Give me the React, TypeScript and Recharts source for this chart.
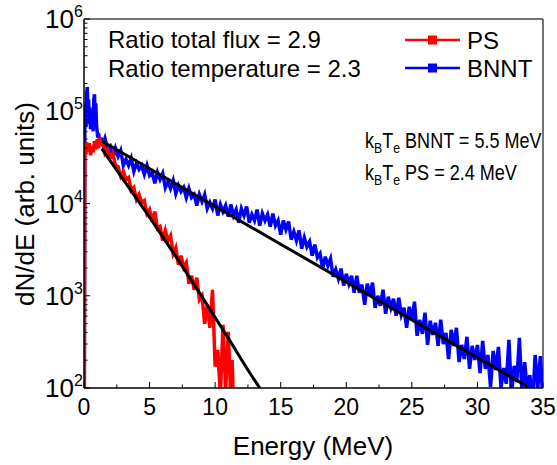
import { LineChart, Line, XAxis, YAxis, ReferenceLine } from "recharts";

const FONT = "'Liberation Sans', Arial, sans-serif";

// BNNT spectrum (energy in MeV, counts in arb. units)
const bnntEnergy = [
  0.02, 0.06, 0.1, 0.15, 0.2, 0.25, 0.3, 0.35, 0.4, 0.45, 0.5, 0.55, 0.6, 0.65, 0.7, 0.75, 0.8, 0.85,
  0.9, 0.95, 1.0, 1.05, 1.1, 1.2, 1.3,
  1.4, 1.6, 1.8, 2, 2.2, 2.4, 2.6, 2.8, 3, 3.2, 3.4, 3.6, 3.8, 4, 4.2, 4.4, 4.6, 4.8, 5, 5.2, 5.4, 5.6,
  5.8, 6, 6.2, 6.4, 6.6, 6.8, 7, 7.2, 7.4, 7.6, 7.8, 8, 8.2, 8.4, 8.6, 8.8, 9, 9.2, 9.4, 9.6, 9.8, 10,
  10.2, 10.4, 10.6, 10.8, 11, 11.2, 11.4, 11.6, 11.8, 12, 12.2, 12.4, 12.6, 12.8, 13, 13.2, 13.4, 13.6,
  13.8, 14, 14.2, 14.4, 14.6, 14.8, 15, 15.2, 15.4, 15.6, 15.8, 16, 16.2, 16.4, 16.6, 16.8, 17, 17.2,
  17.4, 17.6, 17.8, 18, 18.2, 18.4, 18.6, 18.8, 19, 19.2, 19.4, 19.6, 19.8, 20, 20.2, 20.4, 20.6, 20.8,
  21, 21.2, 21.4, 21.6, 21.8, 22, 22.2, 22.4, 22.6, 22.8, 23, 23.2, 23.4, 23.6, 23.8, 24, 24.2, 24.4,
  24.6, 24.8, 25, 25.2, 25.4, 25.6, 25.8, 26, 26.2, 26.4, 26.6, 26.8, 27, 27.2, 27.4, 27.6, 27.8, 28,
  28.2, 28.4, 28.6, 28.8, 29, 29.2, 29.4, 29.6, 29.8, 30, 30.2, 30.4, 30.6, 30.8, 31, 31.2, 31.4, 31.6,
  31.8, 32, 32.2, 32.4, 32.6, 32.8, 33, 33.2, 33.4, 33.6, 33.8, 34, 34.2, 34.4, 34.6, 34.8, 35,
];
const bnntCounts = [
  50, 72300, 119000, 67000, 153000, 182500, 92800, 135000, 72300, 110000, 63700, 100000, 72300, 86000,
  60600, 135000, 153000, 81900, 122000, 72300, 60600, 52000, 57600, 47200, 52000,
  41700, 50800, 38600, 41700, 30900, 39600, 32400, 37600, 25800, 30100,
  25800, 30900, 22300, 27200, 23400, 25800, 20700, 25800, 20200, 21800,
  16500, 21800, 18200, 21200, 14900, 17300, 14550, 17750, 12800, 15700,
  13500, 14900, 11600, 14550, 11600, 12500, 9500, 12500, 10500, 12500,
  8800, 10250, 8800, 11050, 7400, 9750, 8180, 9500, 7220, 9750,
  7400, 8600, 6210, 8800, 7400, 9270, 6210, 7590, 6530, 8600,
  5760, 7780, 6530, 7590, 5620, 7780, 5760, 6530, 4600, 6530,
  5220, 6370, 4060, 4960, 3960, 5090, 3240, 4270, 3400, 3860,
  2720, 3580, 2590, 2860, 1970, 2650, 2120, 2520, 1610, 1920,
  1530, 1970, 1290, 1730, 1350, 1650, 1080, 1650, 1080, 1320,
  798, 1350, 1000, 1390, 741, 1000, 778, 1160, 638, 975,
  741, 928, 606, 951, 622, 741, 449, 759, 549, 861,
  368, 549, 386, 654, 293, 535, 377, 509, 286, 549,
  300, 396, 206, 427, 286, 449, 191, 293, 206, 359,
  161, 286, 201, 293, 145, 324, 161, 228, 103, 252,
  157, 279, 100, 165, 111, 332, 84, 174, 116, 349,
  86, 191, 95, 138, 62, 228, 100, 222, 67,
];

// PS spectrum
const psEnergy = [
  0.02, 0.06, 0.1, 0.15, 0.2, 0.3, 0.4, 0.5, 0.6, 0.7, 0.8, 0.9, 1.0, 1.1, 1.2, 1.3,
  1.4, 1.6, 1.8, 2, 2.2, 2.4, 2.6, 2.8, 3, 3.2, 3.4, 3.6, 3.8, 4, 4.2, 4.4, 4.6, 4.8, 5, 5.2, 5.4, 5.6,
  5.8, 6, 6.2, 6.4, 6.6, 6.8, 7, 7.2, 7.4, 7.6, 7.8, 8, 8.2, 8.4, 8.6, 8.8, 9, 9.2, 9.4, 9.6, 9.8, 10,
  10.2, 10.4, 10.6, 10.8, 11, 11.2, 11.3, 11.4,
];
const psCounts = [
  50, 33000, 43800, 34100, 46000, 36700, 45000, 33300, 41700, 35800, 47200, 38600, 49600, 39600, 52000,
  42700,
  48400, 35000, 38600, 30900, 35000, 25800, 25200, 19700, 22300, 18200,
  19100, 13850, 14900, 11050, 12500, 10250, 10770, 7780, 8600, 6370,
  8180, 5350, 5620, 3960, 5090, 3960, 4490, 2860, 3320, 2170,
  2720, 2020, 2280, 1350, 1650, 1160, 1570, 905, 1000, 496,
  798, 449, 1160, 170, 259, 84, 484, 95, 406, 74,
  201, 60,
];

// exponential fits
const bnntFitEnergy = [1.35, 15, 33.8];
const bnntFitCounts = [47500, 3620, 104];
const psFitEnergy = [1.35, 3, 5.03, 7, 8.85, 11, 12.66, 13.4];
const psFitCounts = [39400, 18150, 7000, 2670, 1052, 347, 144.5, 100];

const xTicks = [0, 2.5, 5, 7.5, 10, 12.5, 15, 17.5, 20, 22.5, 25, 27.5, 30, 32.5, 35];
const yMajorTicks = [100, 1000, 10000, 100000, 1000000];
const yMinorTicks = [
  200, 300, 400, 500, 600, 700, 800, 900,
  2000, 3000, 4000, 5000, 6000, 7000, 8000, 9000,
  20000, 30000, 40000, 50000, 60000, 70000, 80000, 90000,
  200000, 300000, 400000, 500000, 600000, 700000, 800000, 900000,
];

const zip = (xs: number[], ys: number[]) => xs.map((x, i) => ({ x, y: ys[i] }));

const bnntData = zip(bnntEnergy, bnntCounts);
const psData = zip(psEnergy, psCounts);
const bnntFit = zip(bnntFitEnergy, bnntFitCounts);
const psFit = zip(psFitEnergy, psFitCounts);

function XTick({ x, y, payload }: any) {
  const v = payload.value;
  const major = v % 5 === 0;
  return (
    <g>
      <line x1={x} x2={x} y1={y} y2={y - (major ? 6 : 3.5)} stroke="#000" strokeWidth={1} />
      {major && (
        <text x={x} y={y + 27} textAnchor="middle" fontSize={23} fontFamily={FONT} fill="#000">
          {v}
        </text>
      )}
    </g>
  );
}

function YTick({ x, y, payload }: any) {
  const v = payload.value;
  const major = yMajorTicks.includes(v);
  return (
    <g>
      <line x1={x} x2={x + (major ? 6 : 3.5)} y1={y} y2={y} stroke="#000" strokeWidth={1} />
      {major && (
        <g fontFamily={FONT} fill="#000">
          <text x={x - 10} y={y + 9} textAnchor="end" fontSize={26}>
            10
          </text>
          <text x={x - 10} y={y - 2} fontSize={16}>
            {Math.round(Math.log10(v))}
          </text>
        </g>
      )}
    </g>
  );
}

function KbTe({ y, label }: { y: number; label: string }) {
  return (
    <text transform={`translate(365,${y}) scale(0.82,1)`} fontSize={22}>
      k<tspan fontSize={15} dy={5}>B</tspan>
      <tspan dy={-5}>T</tspan>
      <tspan fontSize={15} dy={5}>e</tspan>
      <tspan dy={-5}>{" " + label}</tspan>
    </text>
  );
}

export default function App() {
  return (
    <div style={{ position: "absolute", left: 0, top: 0, width: 557, height: 465, background: "#fff" }}>
      <LineChart width={557} height={465} margin={{ top: 19, right: 14, left: 0, bottom: 0 }}>
        <XAxis
          type="number"
          dataKey="x"
          domain={[0, 35]}
          ticks={xTicks}
          interval={0}
          allowDataOverflow
          height={77}
          tickSize={0}
          tickMargin={0}
          tick={<XTick />}
          axisLine={{ stroke: "#000", strokeWidth: 1.5 }}
        />
        <YAxis
          type="number"
          dataKey="y"
          scale="log"
          domain={[100, 1000000]}
          ticks={[...yMajorTicks, ...yMinorTicks]}
          interval={0}
          allowDataOverflow
          width={84}
          tickSize={0}
          tickMargin={0}
          tick={<YTick />}
          axisLine={{ stroke: "#000", strokeWidth: 1.5 }}
        />
        <ReferenceLine y={1000000} stroke="#444" strokeWidth={1.5} />
        <ReferenceLine x={35} stroke="#444" strokeWidth={1.5} />
        <Line data={bnntData} dataKey="y" stroke="#0000ff" strokeWidth={3.5} dot={false} isAnimationActive={false} type="linear" />
        <Line data={psData} dataKey="y" stroke="#ff0000" strokeWidth={3.5} dot={false} isAnimationActive={false} type="linear" />
        <Line data={bnntFit} dataKey="y" stroke="#000" strokeWidth={3} dot={false} isAnimationActive={false} type="linear" />
        <Line data={psFit} dataKey="y" stroke="#000" strokeWidth={3} dot={false} isAnimationActive={false} type="monotone" />
      </LineChart>

      <svg
        width={557}
        height={465}
        style={{ position: "absolute", left: 0, top: 0, pointerEvents: "none" }}
        fontFamily={FONT}
        fill="#000"
      >
        <text x={108} y={48} fontSize={24}>Ratio total flux = 2.9</text>
        <text x={108} y={77} fontSize={24}>Ratio temperature = 2.3</text>

        <KbTe y={148} label="BNNT = 5.5 MeV" />
        <KbTe y={180} label="PS = 2.4 MeV" />

        {/* legend */}
        <line x1={405} x2={460} y1={40} y2={40} stroke="#ff0000" strokeWidth={2.5} />
        <rect x={428} y={35.5} width={9} height={9} fill="#ff0000" />
        <text x={467} y={49} fontSize={24}>PS</text>
        <line x1={405} x2={460} y1={68} y2={68} stroke="#0000ff" strokeWidth={2.5} />
        <rect x={428} y={63.5} width={9} height={9} fill="#0000ff" />
        <text x={467} y={77} fontSize={24}>BNNT</text>

        <text x={313} y={455} fontSize={26} textAnchor="middle">Energy (MeV)</text>
        <text transform="translate(34,204) rotate(-90)" fontSize={26} textAnchor="middle">
          dN/dE (arb. units)
        </text>
      </svg>
    </div>
  );
}
